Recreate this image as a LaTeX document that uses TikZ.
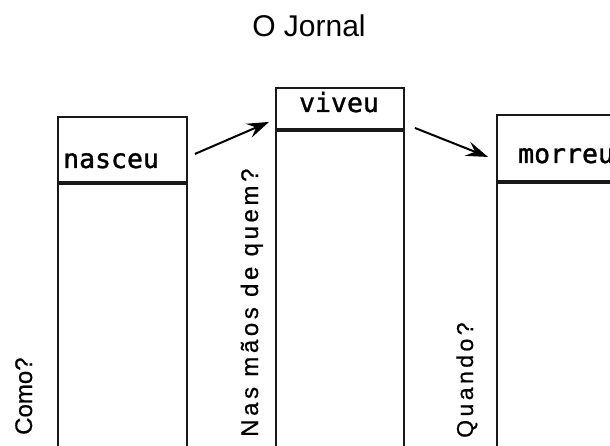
\documentclass[tikz,border=0pt]{standalone}
\usepackage{fontspec}
\setmainfont{Liberation Sans}
\newfontfamily\monofnt[FakeBold=1.3]{DejaVu Sans Mono}
\newfontfamily\sidefnt[FakeBold=0.6,LetterSpace=15]{Liberation Sans}
\newfontfamily\plainsidefnt[FakeBold=0.6]{Liberation Sans}
\usetikzlibrary{arrows.meta,calc}

\begin{document}
\begin{tikzpicture}[x=1pt,y=-1pt,
  frame/.style={draw=black!90, line width=1.9pt, inner sep=0pt, anchor=north west},
  word/.style={anchor=base west, inner sep=0pt, font=\monofnt\fontsize{26.5}{30}\selectfont},
  side/.style={rotate=90, anchor=base west, inner sep=0pt, font=\sidefnt\fontsize{24}{27}\selectfont},
  link/.style={line width=2pt, -{Stealth[length=22pt,width=15pt,inset=8pt]}}]
\useasboundingbox (0,0) rectangle (610,446);
\clip (0,0) rectangle (610,446);

% title
\node[anchor=base, inner sep=0pt, font=\fontsize{30}{34}\selectfont] (title) at (309,37) {O Jornal};

% first column: nasceu
\node[frame, minimum width=129pt, minimum height=65pt] (h1) at (57,116) {};
\node[frame, minimum width=129pt, minimum height=300pt] (b1) at (h1.south west) {};
\node[word] (w1) at (63,168) {nasceu};

% second column: viveu
\node[frame, minimum width=128pt, minimum height=41pt] (h2) at (275,87) {};
\node[frame, minimum width=128pt, minimum height=340pt] (b2) at (h2.south west) {};
\node[word, anchor=base] (w2) at (339,112) {viveu};

% third column: morreu (runs past the right edge)
\node[frame, minimum width=150pt, minimum height=66pt] (h3) at (496,114) {};
\node[frame, minimum width=150pt, minimum height=264pt] (b3) at (h3.south west) {};
\node[word] (w3) at (518,163) {morreu};

% questions along the columns
\node[side, font=\plainsidefnt\fontsize{24}{27}\selectfont] (q1) at (32,435) {Como?};
\node[side] (q2) at (258,437) {Nas mãos de quem?};
\node[side, font=\sidefnt\fontsize{23}{26}\selectfont] (q3) at (473,438) {Quando?};

% arrows between the stages
\draw[link] ([shift={(7,4.5)}]h1.east) -- ([shift={(-6,13.5)}]h2.west);
\draw[link] ([shift={(10,19.5)}]h2.east) -- ([shift={(-8,9)}]h3.west);
\end{tikzpicture}
\end{document}
